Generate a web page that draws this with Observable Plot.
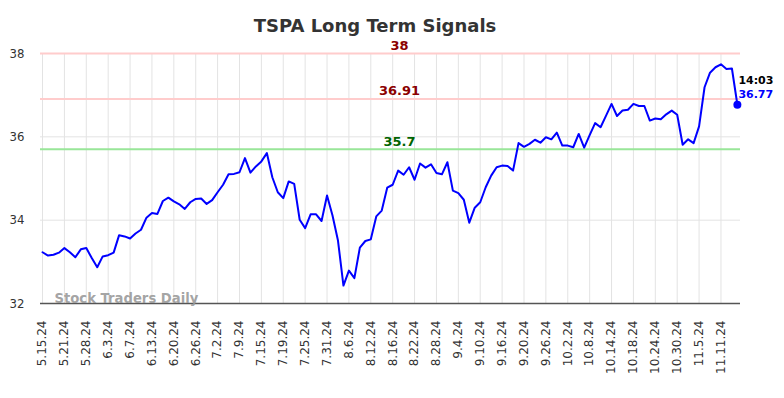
<!DOCTYPE html>
<html>
<head>
<meta charset="utf-8">
<script src="https://cdn.jsdelivr.net/npm/d3@7"></script>
<script src="https://cdn.jsdelivr.net/npm/@observablehq/plot@0.6"></script>
<style>
  html, body { margin: 0; padding: 0; background: #fff; }
  #wrap { width: 784px; height: 398px; overflow: hidden; }
  #title { box-sizing: border-box; width: 784px; height: 40px; padding-top: 17px; padding-right: 34px; text-align: center;
           font-family: "DejaVu Sans", sans-serif;
           font-weight: bold; font-size: 18px; line-height: 18px; color: #333; white-space: nowrap; }
  svg { display: block; }
</style>
</head>
<body>
<div id="wrap">
  <div id="title">TSPA Long Term Signals</div>
  <div id="chart"></div>
</div>
<script>
// Tick labels (every 4th trading day)
const dateLabels = ["5.15.24","5.21.24","5.28.24","6.3.24","6.7.24","6.13.24","6.20.24","6.26.24",
  "7.2.24","7.9.24","7.15.24","7.19.24","7.25.24","7.31.24","8.6.24","8.12.24","8.16.24","8.22.24",
  "8.28.24","9.4.24","9.10.24","9.16.24","9.20.24","9.26.24","10.2.24","10.8.24","10.14.24","10.18.24",
  "10.24.24","10.30.24","11.5.24","11.11.24"];

// Daily closing prices (one per trading day, starting 5.15.24)
const prices = [
  33.23,33.15,33.17,33.22,33.33,33.23,33.11,33.30,33.33,33.09,
  32.87,33.13,33.16,33.22,33.64,33.61,33.56,33.68,33.77,34.06,
  34.17,34.15,34.46,34.54,34.45,34.38,34.27,34.43,34.51,34.52,
  34.39,34.48,34.67,34.85,35.10,35.11,35.15,35.49,35.14,35.29,
  35.41,35.61,35.03,34.67,34.53,34.93,34.87,34.01,33.81,34.14,
  34.14,33.98,34.59,34.11,33.51,32.43,32.79,32.61,33.34,33.50,
  33.54,34.09,34.23,34.78,34.85,35.19,35.09,35.27,34.97,35.36,
  35.26,35.34,35.13,35.10,35.39,34.71,34.65,34.49,33.94,34.30,
  34.43,34.79,35.07,35.27,35.31,35.30,35.19,35.85,35.76,35.83,
  35.93,35.86,35.99,35.94,36.10,35.79,35.79,35.75,36.07,35.74,
  36.04,36.33,36.23,36.51,36.79,36.50,36.63,36.65,36.79,36.74,
  36.74,36.39,36.44,36.42,36.54,36.63,36.53,35.81,35.94,35.85,
  36.25,37.19,37.54,37.67,37.74,37.63,37.64,36.77
];

// Signal levels
const signalLevels = [38, 36.91, 35.7];
const signalLabels = ["38", "36.91", "35.7"];
const signalLineColors = ["#ffcccc", "#ffcccc", "#99e699"];
const signalTextColors = ["#8b0000", "#8b0000", "#006400"];

const yTicks = [32, 34, 36, 38];
const lastTime = "14:03";
const watermark = "Stock Traders Daily";

const tickIdx = dateLabels.map((d, k) => k * 4);
const series = prices.map((v, i) => ({i, v}));
const last = [series[series.length - 1]];
const signals = signalLevels.map((v, k) => ({v, label: signalLabels[k], line: signalLineColors[k], text: signalTextColors[k]}));

const chart = Plot.plot({
  width: 784,
  height: 358,
  marginTop: 13,
  marginBottom: 95,
  marginLeft: 40,
  marginRight: 44,
  style: {fontFamily: "'DejaVu Sans', sans-serif", background: "#fff", overflow: "visible"},
  x: {type: "linear", domain: [-0.37, 127.57]},
  y: {domain: [32, 38]},
  marks: [
    Plot.gridX(tickIdx, {stroke: "#e3e3e3", strokeOpacity: 1, strokeWidth: 1}),
    Plot.gridY(yTicks, {stroke: "#e3e3e3", strokeOpacity: 1, strokeWidth: 1}),
    Plot.ruleY(signals, {y: "v", stroke: "line", strokeWidth: 2}),
    Plot.ruleY([32], {stroke: "#555", strokeWidth: 1.5}),
    Plot.axisY(yTicks, {tickSize: 0, tickPadding: 16, fontSize: 13, fill: "#333",
      fontFamily: "'DejaVu Sans Condensed', 'DejaVu Sans', sans-serif", label: null}),
    Plot.axisX(tickIdx, {tickFormat: i => dateLabels[i / 4], tickRotate: -90, tickSize: 0, tickPadding: 17,
      fontSize: 12, fill: "#333", label: null}),
    Plot.text([watermark], {frameAnchor: "bottom-left", text: d => d, dx: 14, dy: -1, textAnchor: "start",
      fill: "#999", fillOpacity: 0.9, fontWeight: "bold", fontSize: 13.2}),
    Plot.text(signals, {y: "v", text: "label", frameAnchor: "middle", dx: 9, dy: -8, fill: "text",
      fontWeight: "bold", fontSize: 13}),
    Plot.line(series, {x: "i", y: "v", stroke: "#0000ff", strokeWidth: 2}),
    Plot.dot(last, {x: "i", y: "v", r: 4, fill: "#0000ff"}),
    Plot.text(last, {x: "i", y: "v", text: () => lastTime, dx: 1, dy: -24, textAnchor: "start",
      fill: "#000", fontWeight: "bold", fontSize: 11}),
    Plot.text(last, {x: "i", y: "v", text: d => d.v.toFixed(2), dx: 1, dy: -10, textAnchor: "start",
      fill: "#0000ff", fontWeight: "bold", fontSize: 11})
  ]
});
document.getElementById("chart").appendChild(chart);
</script>
</body>
</html>
